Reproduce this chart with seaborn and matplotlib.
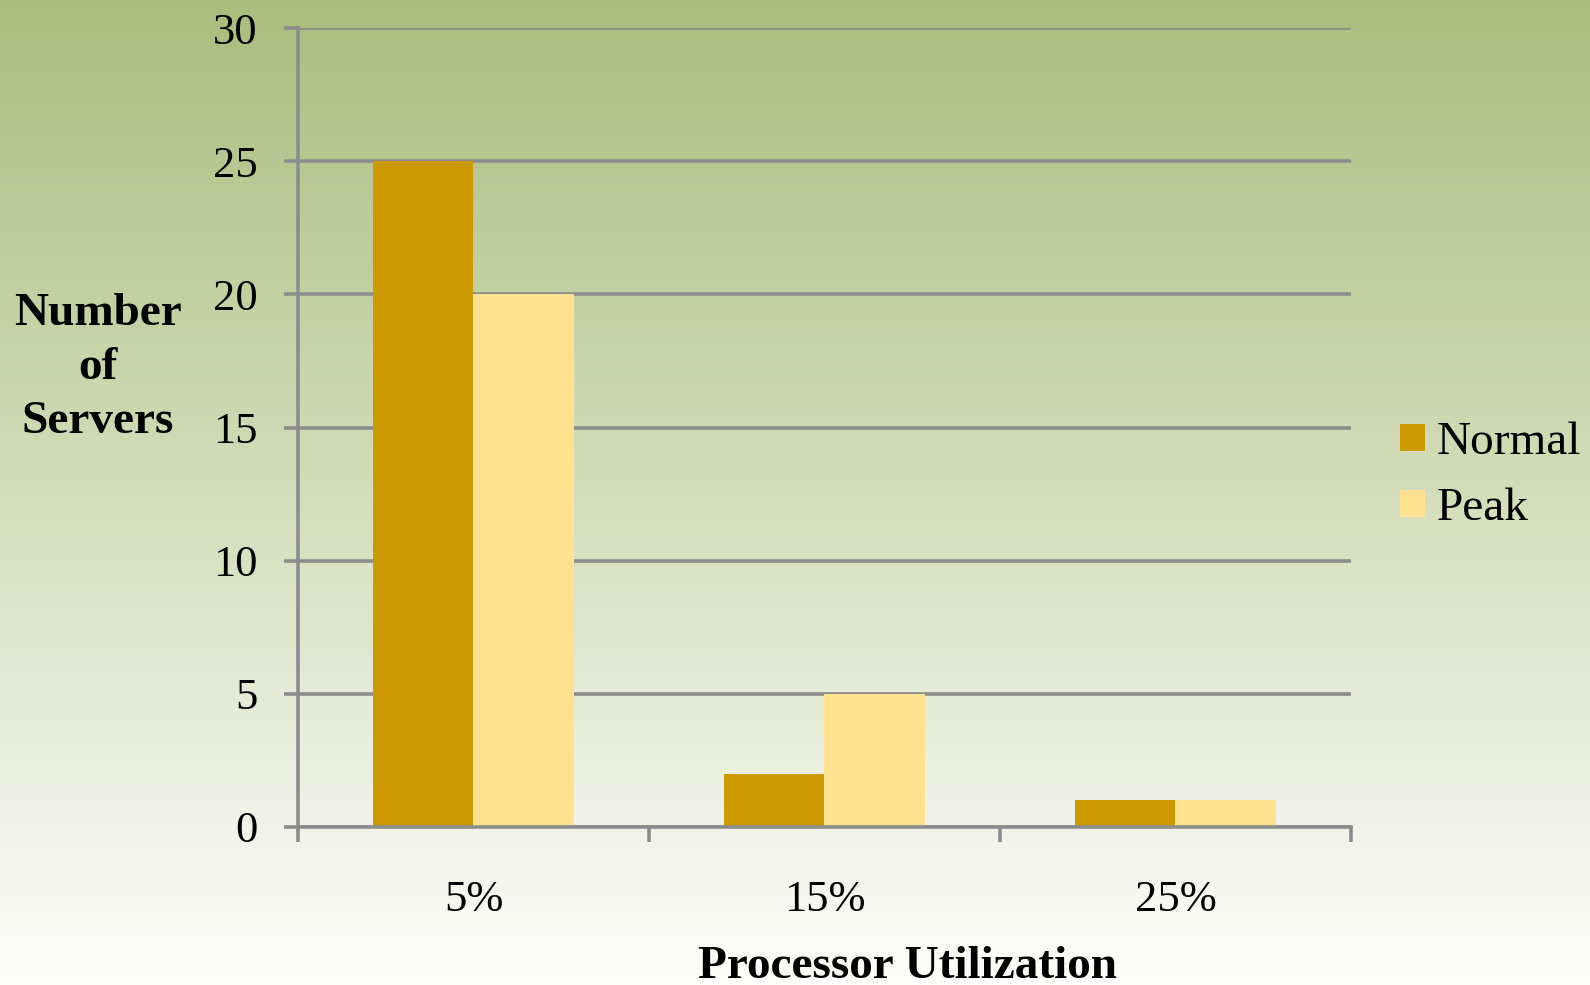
import numpy as np
import pandas as pd
import seaborn as sns
import matplotlib.pyplot as plt
from matplotlib.colors import LinearSegmentedColormap

# data
utilization = ['5%', '15%', '25%']
normal_servers = [25, 2, 1]
peak_servers = [20, 5, 1]
series_names = ['Normal', 'Peak']
y_ticks = [0, 5, 10, 15, 20, 25, 30]

df = pd.DataFrame({
    'Utilization': utilization * 2,
    'Servers': normal_servers + peak_servers,
    'Series': [series_names[0]] * 3 + [series_names[1]] * 3,
})

sns.set_theme(style='white')
plt.rcParams['font.family'] = ['Liberation Serif', 'DejaVu Serif']
plt.rcParams['text.color'] = 'black'
plt.rcParams['xtick.labelcolor'] = 'black'
plt.rcParams['ytick.labelcolor'] = 'black'

W, H = 1590, 985
fig = plt.figure(figsize=(W / 100, H / 100), dpi=100)

# gradient background, green at the top fading to white
bg = fig.add_axes([0, 0, 1, 1], zorder=-10)
cmap = LinearSegmentedColormap.from_list('bg', ['#aabd7e', '#d4ddbb', '#fefefc'])
grad = np.linspace(0, 1, 256).reshape(-1, 1)
bg.imshow(grad, aspect='auto', cmap=cmap, extent=[0, 1, 0, 1])
bg.axis('off')

grid_col = '#8c8c8c'
ax = fig.add_axes([298 / W, 1 - 827 / H, (1351 - 298) / W, (827 - 28) / H])
ax.set_facecolor('none')

sns.barplot(data=df, x='Utilization', y='Servers', hue='Series',
            palette=['#cc9900', '#ffe190'], saturation=1, width=0.57,
            gap=0, linewidth=0, ax=ax)

ax.set_xlim(-0.5, 2.5)
ax.set_ylim(0, 30)
ax.set_yticks(y_ticks)
ax.set_axisbelow(True)
ax.yaxis.grid(True, color=grid_col, linewidth=2.6)
ax.xaxis.grid(False)

for s in ['top', 'right']:
    ax.spines[s].set_visible(False)
for s in ['left', 'bottom']:
    ax.spines[s].set_color(grid_col)
    ax.spines[s].set_linewidth(2.6)

ax.tick_params(axis='y', which='major', left=True, length=10, width=2.6,
               color=grid_col, pad=19, labelsize=32, labelcolor='black')
ax.tick_params(axis='x', which='major', bottom=True, length=0, pad=38, labelsize=32,
               labelcolor='black')
ax.set_xticks([-0.5, 0.5, 1.5, 2.5], minor=True)
ax.tick_params(axis='x', which='minor', bottom=True, length=11, width=2.6,
               color=grid_col, direction='out')

ax.set_xlabel('')
ax.set_ylabel('')

fig.text(98 / W, 1 - 368 / H, 'Number\nof\nServers', ha='center', va='center',
         fontsize=34, fontweight='bold', linespacing=1.38, multialignment='center',
         color='black')
fig.text(907 / W, 1 - 978 / H, 'Processor Utilization', ha='center', va='baseline',
         fontsize=34, fontweight='bold', color='black')

handles, labels = ax.get_legend_handles_labels()
leg = ax.legend(handles, labels, loc='center left', bbox_to_anchor=(1400 / W, 1 - 476 / H),
                bbox_transform=fig.transFigure, frameon=False, fontsize=34,
                handlelength=0.53, handleheight=0.53, handletextpad=0.25,
                labelspacing=0.5, borderpad=0, borderaxespad=0)
for t in leg.get_texts():
    t.set_color('black')

fig.savefig('out.png', dpi=100)
